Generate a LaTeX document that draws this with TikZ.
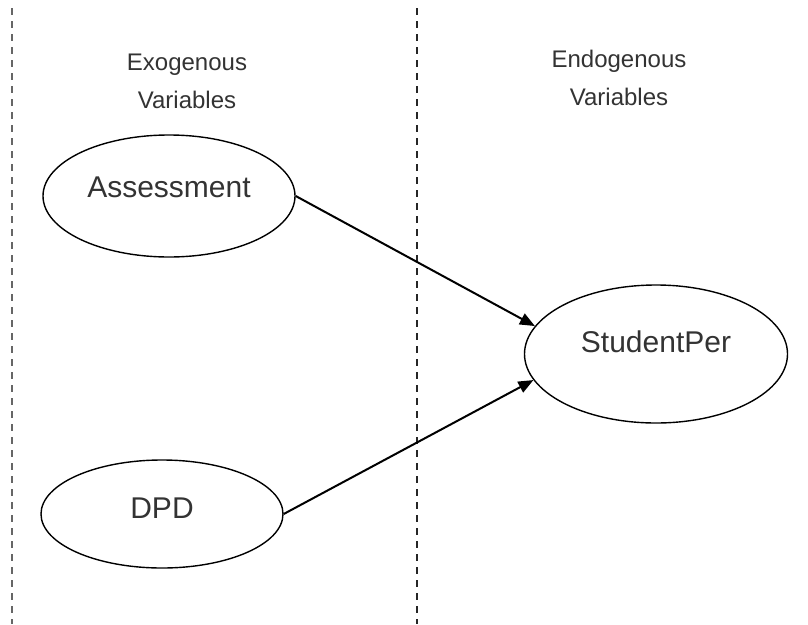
\documentclass[tikz,border=0pt]{standalone}
\usepackage{fontspec}
\setmainfont{Liberation Sans}
\usetikzlibrary{shapes.geometric,arrows.meta}

\definecolor{inkgray}{HTML}{333333}

\tikzset{
  latent/.style={draw=black, line width=1.4pt, ellipse, inner sep=0pt,
    text=inkgray, font=\fontsize{30}{36}\selectfont,
    text height=21pt, text depth=12pt},
  header/.style={align=center, text=inkgray,
    font=\fontsize{24}{38}\selectfont, inner sep=0pt},
  divider/.style={dash pattern=on 7pt off 6pt},
  path/.style={line width=2pt, -{Triangle[length=15pt,width=12pt]}}
}

\begin{document}
\begin{tikzpicture}[x=1pt,y=-1pt]
  \useasboundingbox (0,0) rectangle (808,624);

  % column dividers
  \coordinate (lefttop) at (12,8);
  \coordinate (leftbot) at (12,624);
  \coordinate (midtop) at (417,8);
  \coordinate (midbot) at (417,624);
  \draw[divider, line width=1.3pt, black!60] (lefttop) -- (leftbot);
  \draw[divider, line width=1.8pt, black!85] (midtop) -- (midbot);

  % column headings
  \node[header] (exo) at (187,81) {Exogenous\\Variables};
  \node[header] (endo) at (619,78) {Endogenous\\Variables};

  % variables
  \node[latent, minimum width=252pt, minimum height=122pt, text depth=18pt] (ass) at (169,196) {Assessment};
  \node[latent, minimum width=263pt, minimum height=138pt, text depth=24pt] (sp) at (656,354) {StudentPer};
  \node[latent, minimum width=242pt, minimum height=108pt] (dpd) at (162,514) {DPD};

  % paths
  \draw[path] (ass.east) -- (sp.167.7);
  \draw[path] (dpd.east) -- (sp.192.3);
\end{tikzpicture}
\end{document}
